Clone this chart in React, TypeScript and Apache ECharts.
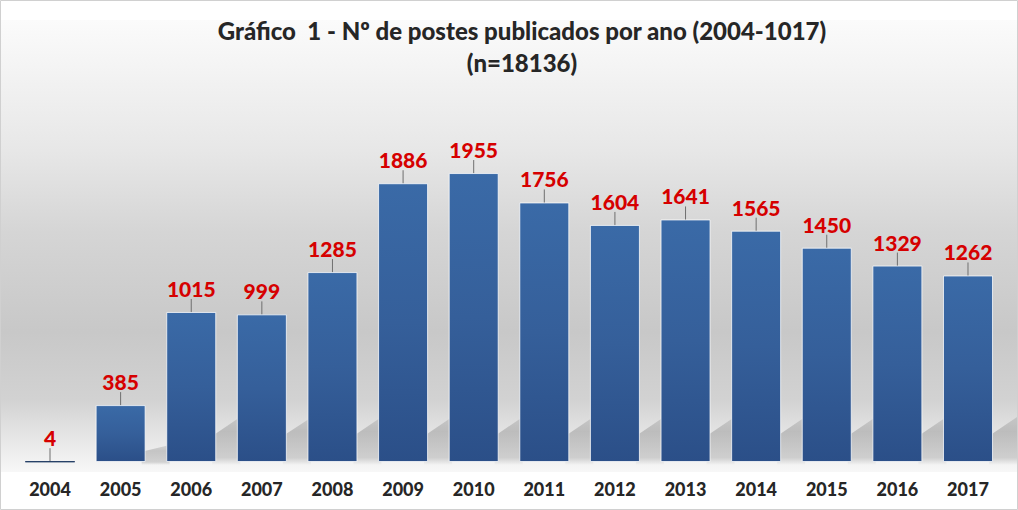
import React, { useEffect, useRef } from "react";
import * as echarts from "echarts";

const categories = ["2004","2005","2006","2007","2008","2009","2010","2011","2012","2013","2014","2015","2016","2017"];
const values = [4, 385, 1015, 999, 1285, 1886, 1955, 1756, 1604, 1641, 1565, 1450, 1329, 1262];
const titleLine1 = "Gráfico  1 - Nº de postes publicados por ano (2004-1017)";
const titleLine2 = "(n=18136)";

export default function App() {
  const ref = useRef<HTMLDivElement>(null);
  useEffect(() => {
    if (!ref.current) return;
    const chart = echarts.init(ref.current, undefined, { renderer: "svg" });
    const font = "Lato, 'Open Sans', 'DejaVu Sans', sans-serif";
    const option: any = {
      animation: false,
      backgroundColor: "#ffffff",
      grid: { left: 14.7, right: 14.7, top: 166.4, bottom: 48, containLabel: false },
      graphic: [
        {
          type: "rect",
          z: -10,
          silent: true,
          shape: { x: 1, y: 20, width: 1016, height: 452 },
          style: {
            fill: new echarts.graphic.LinearGradient(0, 0, 0, 1, [
              { offset: 0, color: "#fbfbfb" },
              { offset: 0.29, color: "#e7e7e7" },
              { offset: 0.47, color: "#d5d5d5" },
              { offset: 0.69, color: "#c8c8c8" },
              { offset: 0.84, color: "#d2d2d2" },
              { offset: 0.91, color: "#e3e3e3" },
              { offset: 1, color: "#f7f7f7" },
            ]),
          },
        },
        {
          type: "rect",
          z: 100,
          silent: true,
          shape: { x: 0.5, y: 0.5, width: 1017, height: 509 },
          style: { fill: "none", stroke: "#d0d0d0", lineWidth: 1 },
        },
        {
          type: "text",
          x: 522,
          y: 30,
          style: {
            text: titleLine1,
            fill: "#262626",
            font: `900 24px ${font}`,
            textAlign: "center",
            textVerticalAlign: "middle",
          },
        },
        {
          type: "text",
          x: 522,
          y: 62,
          style: {
            text: titleLine2,
            fill: "#262626",
            font: `900 24px ${font}`,
            textAlign: "center",
            textVerticalAlign: "middle",
          },
        },
      ],
      xAxis: {
        type: "category",
        data: categories,
        axisLine: { show: false },
        axisTick: { show: false },
        axisLabel: {
          margin: 18,
          color: "#262626",
          fontFamily: font,
          fontWeight: 900,
          fontSize: 18,
        },
      },
      yAxis: {
        type: "value",
        min: 0,
        max: 2000,
        show: false,
        splitLine: { show: false },
      },
      series: [
        {
          type: "custom",
          z: 1,
          clip: false,
          silent: true,
          data: values.map((v, i) => [i, v]),
          renderItem: (params: any, api: any) => {
            const base = api.coord([api.value(0), 0]);
            const top = api.coord([api.value(0), api.value(1)]);
            const barH = base[1] - top[1];
            if (barH < 5) return null;
            const xr = base[0] + 25;
            const y0 = base[1];
            const h1 = Math.min(barH * 0.18, 26);
            const h2 = Math.min(barH * 0.3, 45);
            return {
              type: "polygon",
              shape: {
                points: [
                  [xr - 4, y0 + 3],
                  [xr - 4, y0 - h1],
                  [xr + 24, y0 - h2],
                  [xr + 24, y0 + 3],
                ],
              },
              style: {
                fill: new echarts.graphic.LinearGradient(0, 0, 0, 1, [
                  { offset: 0, color: "rgba(0,0,0,0.10)" },
                  { offset: 0.3, color: "rgba(0,0,0,0.17)" },
                  { offset: 0.85, color: "rgba(0,0,0,0.14)" },
                  { offset: 1, color: "rgba(0,0,0,0.0)" },
                ]),
              },
            };
          },
        },
        {
          type: "bar",
          z: 2,
          barWidth: 50,
          data: values.map((v) =>
            v < 20 ? { value: v, itemStyle: { borderColor: "#1f3a63", borderWidth: 1 } } : v
          ),
          itemStyle: {
            color: new echarts.graphic.LinearGradient(0, 0, 0, 1, [
              { offset: 0, color: "#3a6aa7" },
              { offset: 0.5, color: "#355f9a" },
              { offset: 1, color: "#2b4f88" },
            ]),
            borderColor: "rgba(255,255,255,0.75)",
            borderWidth: 1,
          },
          label: {
            show: true,
            position: "top",
            distance: 4,
            color: "#d60000",
            fontFamily: font,
            fontWeight: 900,
            fontSize: 21,
          },
          labelLayout: { dy: -9 },
          labelLine: { show: true, lineStyle: { color: "#6f6f6f", width: 1 } },
        },
      ],
    };
    chart.setOption(option);
    return () => chart.dispose();
  }, []);
  return (
    <div
      ref={ref}
      style={{ position: "absolute", left: 0, top: 0, width: 1018, height: 510 }}
    />
  );
}
